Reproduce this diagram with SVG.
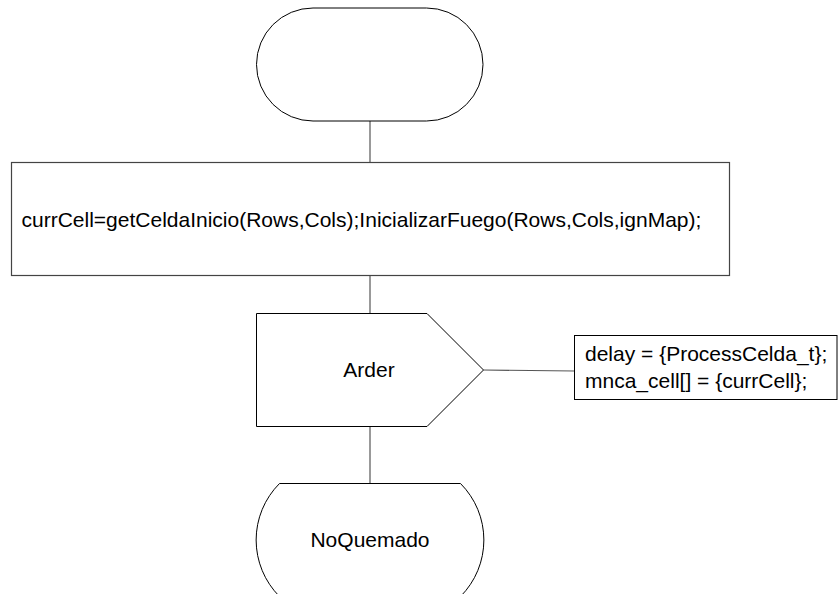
<svg xmlns="http://www.w3.org/2000/svg" width="840" height="594" viewBox="0 0 840 594">
  <style>
    .shape { fill: #fff; stroke: #000; stroke-width: 1; }
    .box { fill: #fff; stroke: #444; stroke-width: 1.2; }
    .conn { fill: none; stroke: #555; stroke-width: 1.2; }
    .lbl { font-family: "Liberation Sans", Arial, sans-serif; font-size: 21px; fill: #000; }
  </style>
  <rect width="840" height="594" fill="#fff"/>

  <!-- connectors -->
  <g id="connectors">
    <line class="conn" x1="370" y1="121" x2="370" y2="162.5"/>
    <line class="conn" x1="370" y1="275.5" x2="370" y2="313.5"/>
    <line class="conn" x1="370" y1="427" x2="370" y2="483.5"/>
    <line class="conn" x1="483.5" y1="370" x2="574.5" y2="371"/>
  </g>

  <!-- start -->
  <g id="start">
    <rect class="shape" x="256.5" y="8" width="226.5" height="113" rx="56.5" ry="56.5"/>
  </g>

  <!-- task -->
  <g id="init">
    <rect class="box" x="11.5" y="162.5" width="718" height="113"/>
    <text class="lbl" x="21.5" y="226.5">currCell=getCeldaInicio(Rows,Cols);InicializarFuego(Rows,Cols,ignMap);</text>
  </g>

  <!-- output signal -->
  <g id="arder">
    <path class="shape" d="M256.5,313.5 H427 L483.5,370 L427,426.5 H256.5 Z"/>
    <text class="lbl" x="369" y="377" text-anchor="middle">Arder</text>
  </g>

  <!-- annotation -->
  <g id="note">
    <rect class="shape" x="574.5" y="335.5" width="262.5" height="64"/>
    <text class="lbl" x="585" y="361">delay = {ProcessCelda_t};</text>
    <text class="lbl" x="585" y="388">mnca_cell[] = {currCell};</text>
  </g>

  <!-- state -->
  <g id="noquemado">
    <path class="shape" d="M279.5,483.5 H460.5 A80,80 0 0 1 460.5,596.5 H279.5 A80,80 0 0 1 279.5,483.5 Z"/>
    <text class="lbl" x="370" y="547" text-anchor="middle">NoQuemado</text>
  </g>
</svg>
